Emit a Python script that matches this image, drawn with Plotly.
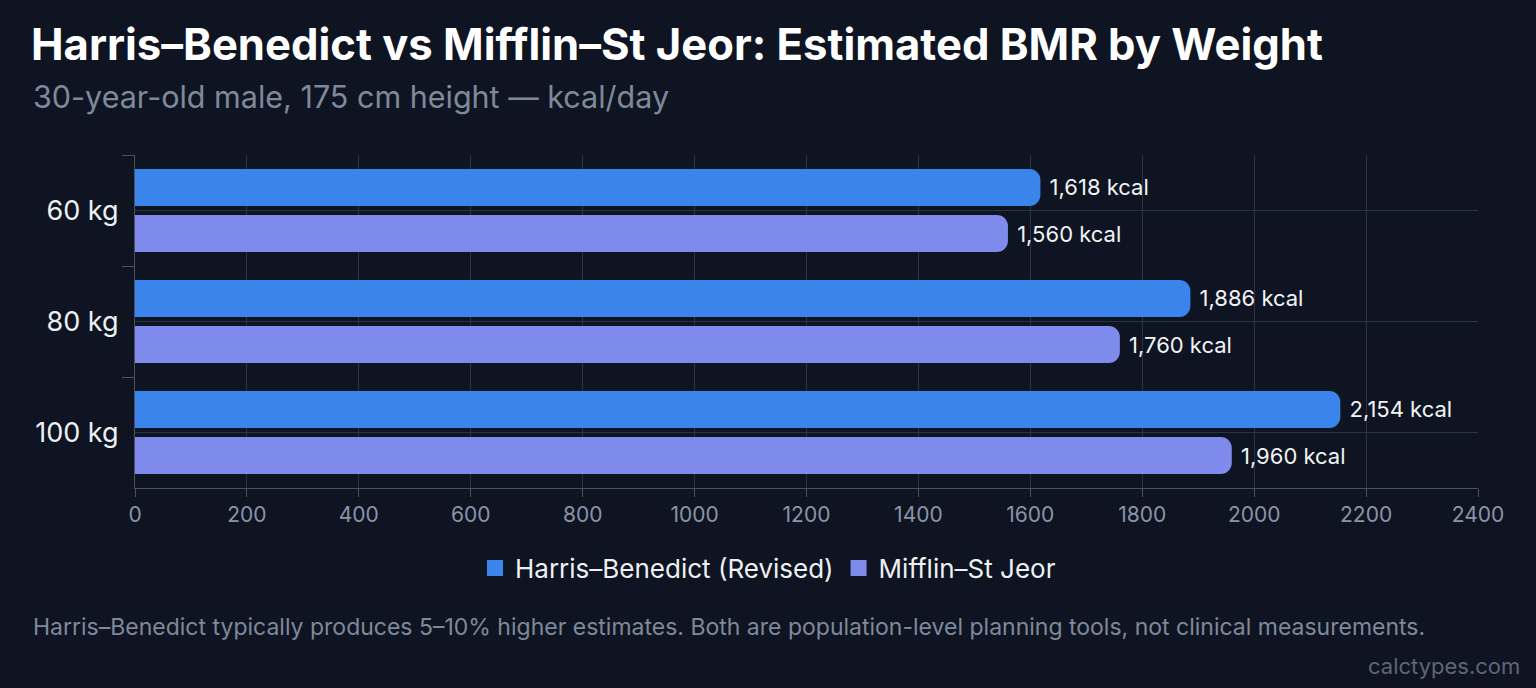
import plotly.graph_objects as go

# ---- data ----
weights = ["60 kg", "80 kg", "100 kg"]
harris_benedict = [1618, 1886, 2154]
mifflin_st_jeor = [1560, 1760, 1960]
series_names = ["Harris–Benedict (Revised)", "Mifflin–St Jeor"]
x_ticks = [0, 200, 400, 600, 800, 1000, 1200, 1400, 1600, 1800, 2000, 2200, 2400]

title = "Harris–Benedict vs Mifflin–St Jeor: Estimated BMR by Weight"
subtitle = "30-year-old male, 175 cm height — kcal/day"
footnote = ("Harris–Benedict typically produces 5–10% higher estimates. "
            "Both are population-level planning tools, not clinical measurements.")
credit = "calctypes.com"

# ---- style ----
W, H = 1536, 688
BG = "#0e1421"
C_HB = "#3a85ec"
C_MSJ = "#7f8bec"
GRID = "#2c3443"
AXIS = "#4a5261"
TICK_TXT = "#8a94a6"
FONT = "Inter"

L, R, T, B = 135, 1478, 155, 488


def cx(px):
    return px / W


def cy(py):
    return 1 - py / H


fig = go.Figure()
for name, vals, col in [(series_names[0], harris_benedict, C_HB),
                        (series_names[1], mifflin_st_jeor, C_MSJ)]:
    fig.add_trace(go.Bar(
        y=weights, x=vals, name=name, orientation="h",
        marker=dict(color=col, cornerradius=11, line=dict(width=0)),
        text=[f" {v:,} kcal" for v in vals],
        textposition="outside",
        textfont=dict(family=FONT, size=22, color="#f1f3f6"),
        cliponaxis=False,
        hoverinfo="skip",
        showlegend=False,
    ))

# legend entries with larger square swatches
for name, col in [(series_names[0], C_HB), (series_names[1], C_MSJ)]:
    fig.add_trace(go.Scatter(
        x=[None], y=[None], mode="markers", name=name,
        marker=dict(symbol="square", size=22, color=col),
        hoverinfo="skip",
    ))

# horizontal gridlines at category centres
for w in weights:
    fig.add_shape(type="line", xref="paper", x0=0, x1=1, yref="y", y0=w, y1=w,
                  line=dict(color=GRID, width=1), layer="below")

fig.update_layout(
    width=W, height=H,
    paper_bgcolor=BG, plot_bgcolor=BG,
    margin=dict(l=L, r=W - R, t=T, b=H - B),
    barmode="group", bargap=0.17, bargroupgap=0.2,
    font=dict(family=FONT, color="#e5e7eb"),
    title=dict(text=f"<b>{title}</b>", x=cx(31), xanchor="left", xref="container",
               y=cy(45), yanchor="middle", yref="container",
               font=dict(family=FONT, size=43.6, color="#ffffff")),
    xaxis=dict(range=[0, 2400], tickvals=x_ticks, showgrid=True, gridcolor=GRID,
               gridwidth=1, zeroline=False, showline=True, linecolor=AXIS,
               ticks="outside", ticklen=8, tickcolor=AXIS,
               tickfont=dict(family=FONT, size=21, color=TICK_TXT)),
    yaxis=dict(autorange="reversed", tickson="boundaries", ticks="outside",
               ticklen=12, tickcolor=AXIS, showgrid=False, showline=True,
               linecolor=AXIS, zeroline=False, ticklabelstandoff=10,
               tickfont=dict(family=FONT, size=27, color="#eef0f3")),
    legend=dict(orientation="h", xref="container", yref="container",
                x=0.5, xanchor="center", y=cy(568), yanchor="middle",
                font=dict(family=FONT, size=26, color="#eef0f3"),
                bgcolor="rgba(0,0,0,0)", itemwidth=30),
    showlegend=True,
)

fig.add_annotation(text=subtitle, xref="paper", yref="paper",
                   x=(31 - L) / (R - L), y=(B - 96) / (B - T),
                   xanchor="left", yanchor="middle", showarrow=False,
                   font=dict(family=FONT, size=30.5, color="#7f899a"))
fig.add_annotation(text=footnote, xref="paper", yref="paper",
                   x=(31 - L) / (R - L), y=(B - 627) / (B - T),
                   xanchor="left", yanchor="middle", showarrow=False,
                   font=dict(family=FONT, size=23, color="#7f899a"))
fig.add_annotation(text=credit, xref="paper", yref="paper",
                   x=(1522 - L) / (R - L), y=(B - 666) / (B - T),
                   xanchor="right", yanchor="middle", showarrow=False,
                   font=dict(family=FONT, size=22, color="#5d6677"))

fig.write_html("out.html")
